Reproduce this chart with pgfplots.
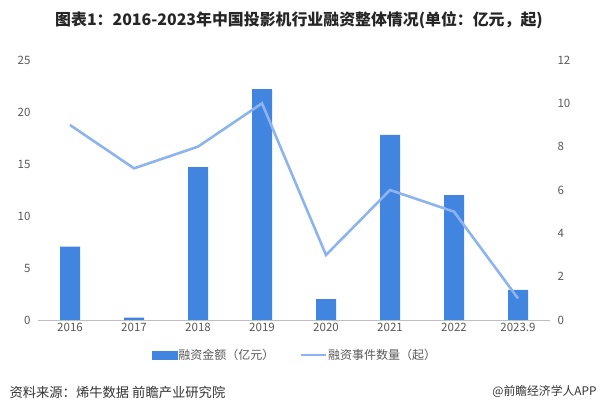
\documentclass[border=0pt]{standalone}
\usepackage{pgfplots}
\pgfplotsset{compat=1.18}
\usepackage{fontspec}
\setmainfont{Noto Sans CJK SC}
\definecolor{barblue}{HTML}{4285E0}
\definecolor{lineblue}{HTML}{8DB4EE}
\definecolor{txt}{HTML}{595959}
\begin{document}
\begin{tikzpicture}[x=1pt,y=1pt]
\useasboundingbox (0,0) rectangle (601,417);
\pgfplotsset{every axis/.append style={scale only axis, width=512pt, height=260pt,
  at={(38pt,97pt)}, anchor=south west, xmin=-0.5, xmax=7.5,
  tick style={draw=none}, /pgf/number format/assume math mode=true,
  ticklabel style={font=\fontsize{11.5}{13}\selectfont, text=txt}}}
\begin{axis}[ymin=0, ymax=25, ytick={0,5,...,25},
  axis y line*=left, axis x line*=bottom,
  y axis line style={draw=none}, x axis line style={draw=black!25, line width=0.8pt},
  xtick={0,...,7}, xticklabels={2016,2017,2018,2019,2020,2021,2022,2023.9},
  yticklabel style={xshift=-4pt}]
\addplot[ybar, bar width=20pt, fill=barblue, draw=none] coordinates {
(0,7.05) (1,0.22) (2,14.7) (3,22.2) (4,2.0) (5,17.8) (6,12.0) (7,2.9)};
\end{axis}
\begin{axis}[ymin=0, ymax=12, ytick={0,2,...,12},
  axis y line*=right, axis x line=none, y axis line style={draw=none},
  yticklabel style={xshift=4pt},
  legend columns=2,
  legend style={at={(0.501,-0.135)}, anchor=center, draw=none, fill=none,
    font=\fontsize{12}{14}\selectfont, text=txt,
    nodes={inner xsep=1pt},
    /tikz/every even column/.append style={column sep=24pt}}]
\addlegendimage{legend image code/.code={\fill[barblue] (0pt,-4pt) rectangle (25pt,4pt);}}
\addlegendentry{融资金额（亿元）}
\addplot[lineblue, line width=2.6pt, legend image code/.code={\draw[lineblue, line width=2.6pt] (0pt,0pt)--(25pt,0pt);}] coordinates {
(0,9) (1,7) (2,8) (3,10) (4,3) (5,6) (6,5) (7,1)};
\addlegendentry{融资事件数量（起）}
\end{axis}
\node[font=\fontsize{15.9}{18}\selectfont\bfseries, text=black!85] at (299,397) {图表1：2016-2023年中国投影机行业融资整体情况(单位：亿元，起)};
\node[anchor=west, font=\fontsize{13.3}{15}\selectfont, text=black!80] at (6,25) {资料来源：烯牛数据 前瞻产业研究院};
\node[anchor=east, font=\fontsize{11.8}{14}\selectfont, text=black!80] at (600,25) {@前瞻经济学人APP};
\end{tikzpicture}
\end{document}
